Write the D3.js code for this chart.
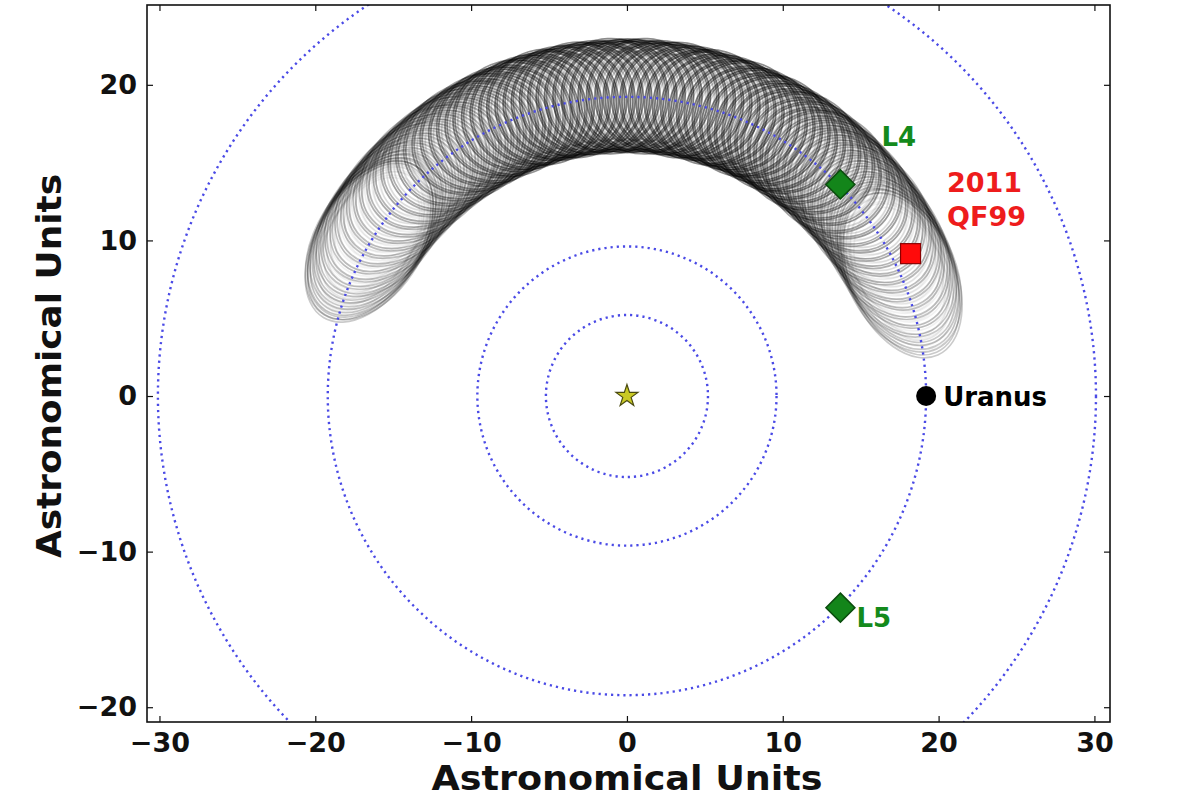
<!DOCTYPE html>
<html><head><meta charset="utf-8">
<script src="https://cdn.jsdelivr.net/npm/d3@7"></script>
<style>body{margin:0;background:#fff}svg{display:block}text{font-family:"DejaVu Sans",sans-serif;font-weight:bold}</style>
</head><body><svg id="c" width="1200" height="800"></svg>
<script>
// ---- data ----
const xTicks = [-30, -20, -10, 0, 10, 20, 30];
const yTicks = [-20, -10, 0, 10, 20];
const orbitNames = ["Jupiter", "Saturn", "Uranus", "Neptune"];
const orbitRadii = [5.2, 9.6, 19.2, 30.1];
// libration loops of 2011 QF99: [guiding-centre angle (deg), radial half-width (AU), tangential half-width (AU)]
const loopTable = [
  [24.0,3.4,5.7],[25.0,3.5,5.65],[26.2,3.45,5.6],[27.6,3.55,5.5],[29.1,3.5,5.4],[30.7,3.6,5.3],[32.3,3.5,5.2],[33.9,3.6,5.1],
  [35.5,3.55,5.0],[37.1,3.65,4.9],[38.7,3.55,4.8],[40.3,3.6,4.7],[41.9,3.65,4.6],[43.5,3.55,4.5],[45.1,3.65,4.4],[46.7,3.6,4.3],
  [48.3,3.7,4.2],[49.9,3.55,4.1],[51.5,3.65,4.0],[53.1,3.6,3.95],[54.7,3.7,3.9],[56.3,3.6,3.85],[57.9,3.65,3.8],[59.5,3.55,3.75],
  [61.1,3.7,3.7],[62.7,3.6,3.7],[64.3,3.65,3.7],[65.9,3.55,3.7],[67.5,3.7,3.7],[69.1,3.6,3.7],[70.7,3.65,3.7],[72.3,3.6,3.7],
  [73.9,3.7,3.7],[75.5,3.55,3.7],[77.1,3.65,3.7],[78.7,3.6,3.7],[80.3,3.7,3.7],[81.9,3.6,3.7],[83.5,3.65,3.7],[85.1,3.55,3.7],
  [86.7,3.7,3.7],[88.3,3.6,3.7],[89.9,3.65,3.7],[91.5,3.6,3.7],[93.1,3.7,3.7],[94.7,3.55,3.7],[96.3,3.65,3.7],[97.9,3.6,3.7],
  [99.5,3.7,3.7],[101.1,3.6,3.7],[102.7,3.65,3.7],[104.3,3.55,3.7],[105.9,3.7,3.7],[107.5,3.6,3.7],[109.1,3.65,3.75],[110.7,3.6,3.8],
  [112.3,3.7,3.85],[113.9,3.55,3.9],[115.5,3.65,3.95],[117.1,3.6,4.0],[118.7,3.65,4.1],[120.3,3.55,4.2],[121.9,3.65,4.3],[123.5,3.6,4.4],
  [125.1,3.6,4.5],[126.7,3.55,4.6],[128.3,3.6,4.7],[129.9,3.5,4.8],[131.5,3.6,4.9],[133.1,3.5,5.0],[134.7,3.55,5.1],[136.3,3.5,5.2],
  [137.9,3.55,5.3],[139.5,3.45,5.4],[141.1,3.5,5.45],[142.6,3.45,5.5],[144.0,3.5,5.55],[145.3,3.4,5.6],[146.5,3.45,5.65],[147.6,3.4,5.7],
  [148.5,3.45,5.7],[149.0,3.35,5.7]
];
// nested loop sizes within one libration (relative to the outermost loop)
const loopNest = [1.0, 0.965, 0.92, 0.86, 0.79];
const loopGuideRadius = 19.3;
const sun = {x: 0, y: 0};
const uranus = {x: 19.2, y: 0, label: "Uranus"};
const lagrange = [{x: 13.7, y: 13.6, label: "L4"}, {x: 13.7, y: -13.6, label: "L5"}];
const asteroid = {x: 18.2, y: 9.15, label: ["2011", "QF99"]};
const xDomain = [-30.8, 31.0];
const yDomain = [-20.95, 25.13];

// ---- layout ----
const svg = d3.select("#c");
const L = 147, R = 1110, T = 5, B = 722;
const x = d3.scaleLinear().domain(xDomain).range([L, R]);
const y = d3.scaleLinear().domain(yDomain).range([B, T]);
const ppu = (R - L) / (xDomain[1] - xDomain[0]);

svg.append("defs").append("clipPath").attr("id", "clip")
  .append("rect").attr("x", L).attr("y", T).attr("width", R - L).attr("height", B - T);
const plot = svg.append("g").attr("clip-path", "url(#clip)");

// loops
const loops = [];
loopTable.forEach(([a, r, t]) => loopNest.forEach((s, j) =>
  loops.push({a, r: r * s, t: t * s, k: j, w: Math.pow(3.7 / t, 1.8)})));
plot.append("g").selectAll("ellipse").data(loops).join("ellipse")
  .attr("transform", d => {
    const rad = d.a * Math.PI / 180;
    return `translate(${x(loopGuideRadius * Math.cos(rad))},${y(loopGuideRadius * Math.sin(rad))}) rotate(${-d.a})`;
  })
  .attr("rx", d => d.r * ppu).attr("ry", d => d.t * ppu)
  .attr("fill", "none").attr("stroke", "#000")
  .attr("stroke-opacity", d => (d.k <= 1 ? 0.45 : 0.11) * d.w).attr("stroke-width", 1.7);

// planetary orbits
plot.append("g").selectAll("circle").data(orbitRadii).join("circle")
  .attr("cx", x(0)).attr("cy", y(0)).attr("r", d => d * ppu)
  .attr("fill", "none").attr("stroke", "#4a4ae6").attr("stroke-width", 2.4)
  .attr("stroke-dasharray", "2.2,4").attr("stroke-linecap", "butt");

// sun
svg.append("path").attr("d", d3.symbol(d3.symbolStar, 150)())
  .attr("transform", `translate(${x(sun.x)},${y(sun.y)})`)
  .attr("fill", "#c9c924").attr("stroke", "#4a4a10").attr("stroke-width", 1.2);

// Uranus
svg.append("circle").attr("cx", x(uranus.x)).attr("cy", y(uranus.y)).attr("r", 10).attr("fill", "#000");
svg.append("text").attr("x", x(uranus.x) + 17).attr("y", y(uranus.y) + 10)
  .attr("font-size", 26).attr("fill", "#000").text(uranus.label);

// Lagrange points
lagrange.forEach((p, i) => {
  svg.append("path").attr("d", d3.symbol(d3.symbolSquare, 420)())
    .attr("transform", `translate(${x(p.x)},${y(p.y)}) rotate(45)`)
    .attr("fill", "#13851a").attr("stroke", "#0b4d0e").attr("stroke-width", 1.5);
});
svg.append("text").attr("x", x(lagrange[0].x) + 41).attr("y", y(lagrange[0].y) - 38)
  .attr("font-size", 26).attr("fill", "#148a1c").text(lagrange[0].label);
svg.append("text").attr("x", x(lagrange[1].x) + 16).attr("y", y(lagrange[1].y) + 19)
  .attr("font-size", 26).attr("fill", "#148a1c").text(lagrange[1].label);

// asteroid
svg.append("rect").attr("x", x(asteroid.x) - 10).attr("y", y(asteroid.y) - 10)
  .attr("width", 20).attr("height", 20).attr("fill", "#ff0a0a").attr("stroke", "#8a0000").attr("stroke-width", 1.2);
asteroid.label.forEach((s, i) => {
  svg.append("text").attr("x", 947).attr("y", 192 + i * 34)
    .attr("font-size", 27).attr("fill", "#ee1c1c").text(s);
});

// frame
svg.append("rect").attr("x", L).attr("y", T).attr("width", R - L).attr("height", B - T)
  .attr("fill", "none").attr("stroke", "#111").attr("stroke-width", 1.6);

const fmt = d => d < 0 ? "\u2212" + Math.abs(d) : String(d);
const tk = 6;
const axB = svg.append("g").attr("transform", `translate(0,${B})`)
  .call(d3.axisBottom(x).tickValues(xTicks).tickSizeInner(-tk).tickSizeOuter(0).tickPadding(11).tickFormat(fmt));
const axT = svg.append("g").attr("transform", `translate(0,${T})`)
  .call(d3.axisTop(x).tickValues(xTicks).tickSizeInner(-tk).tickSizeOuter(0).tickFormat(""));
const axL = svg.append("g").attr("transform", `translate(${L},0)`)
  .call(d3.axisLeft(y).tickValues(yTicks).tickSizeInner(-tk).tickSizeOuter(0).tickPadding(10).tickFormat(fmt));
const axR = svg.append("g").attr("transform", `translate(${R},0)`)
  .call(d3.axisRight(y).tickValues(yTicks).tickSizeInner(-tk).tickSizeOuter(0).tickFormat(""));
[axB, axT, axL, axR].forEach(g => {
  g.select(".domain").remove();
  g.selectAll(".tick line").attr("stroke", "#111").attr("stroke-width", 1.2);
  g.selectAll(".tick text").attr("font-size", 27).attr("font-family", "DejaVu Sans").attr("font-weight", "bold").attr("fill", "#111");
});

// axis titles
svg.append("text").attr("x", 627).attr("y", 790).attr("text-anchor", "middle")
  .attr("font-size", 34).attr("textLength", 391).attr("lengthAdjust", "spacingAndGlyphs")
  .attr("fill", "#111").text("Astronomical Units");
svg.append("text").attr("transform", "translate(61,366) rotate(-90)").attr("text-anchor", "middle")
  .attr("font-size", 34).attr("textLength", 384).attr("lengthAdjust", "spacingAndGlyphs")
  .attr("fill", "#111").text("Astronomical Units");
</script></body></html>
